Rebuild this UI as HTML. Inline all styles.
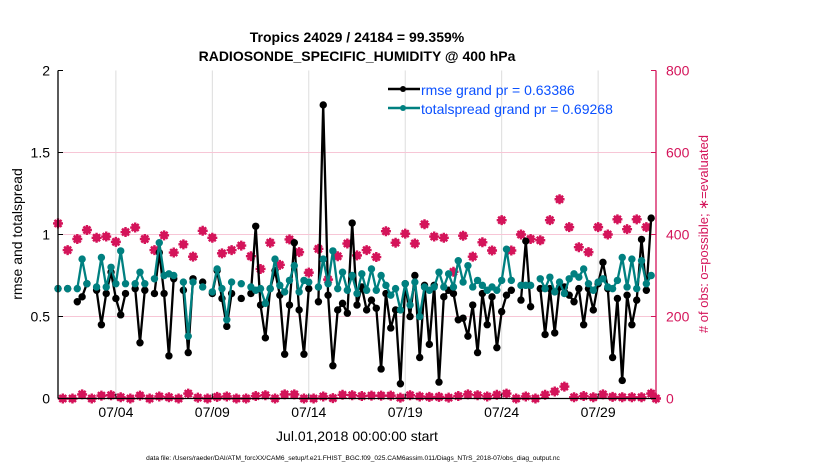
<!DOCTYPE html>
<html><head><meta charset="utf-8"><style>
html,body{margin:0;padding:0;background:#fff;width:830px;height:470px;overflow:hidden}
svg{font-family:"Liberation Sans",Arial,sans-serif}
</style></head><body>
<svg id="chart" width="830" height="470" viewBox="0 0 830 470">
<text x="357" y="42" text-anchor="middle" font-size="14" font-weight="bold">Tropics 24029 / 24184 = 99.359%</text>
<text x="357" y="61" text-anchor="middle" font-size="14" font-weight="bold">RADIOSONDE_SPECIFIC_HUMIDITY @ 400 hPa</text>
<g id="grid"></g>
<g id="marks"></g>
<g id="axes"></g>
<text transform="translate(22,234) rotate(-90)" text-anchor="middle" font-size="14">rmse and totalspread</text>
<text transform="translate(708,234) rotate(-90)" text-anchor="middle" font-size="13" fill="#d4145a"># of obs: o=possible; ∗=evaluated</text>
<text x="357" y="441" text-anchor="middle" font-size="14">Jul.01,2018 00:00:00 start</text>
<text x="353" y="460" text-anchor="middle" font-size="6.6">data file: /Users/raeder/DAI/ATM_forcXX/CAM6_setup/f.e21.FHIST_BGC.f09_025.CAM6assim.011/Diags_NTrS_2018-07/obs_diag_output.nc</text>
<g>
<line x1="388" y1="89" x2="420" y2="89" stroke="#000" stroke-width="2.5"/>
<circle cx="403" cy="89" r="3" fill="#000"/>
<text x="421" y="95" font-size="14" fill="#0a50ff">rmse grand pr = 0.63386</text>
<line x1="388" y1="108" x2="420" y2="108" stroke="#008080" stroke-width="2.5"/>
<circle cx="403" cy="108" r="3" fill="#008080"/>
<text x="421" y="114" font-size="14" fill="#0a50ff">totalspread grand pr = 0.69268</text>
</g>
</svg>
<script>
const rmse=[.67,null,.67,null,.59,.62,.70,null,.66,.45,.64,.77,.61,.51,.64,null,.67,.34,.66,null,.64,.89,.64,.26,.73,null,.66,.28,.73,null,.71,null,.64,.78,.61,.44,.64,null,.61,null,
.64,1.05,.57,.37,.67,.78,.63,.27,.57,.95,.54,.27,.67,null,.59,1.79,.63,.20,.54,.58,.52,1.07,.57,.68,.54,.60,.55,.18,.64,.43,.54,.09,.70,.50,.75,.25,.69,.33,.69,.10,
.62,.66,.64,.48,.49,.38,.57,.28,.64,.45,.62,.31,.53,.63,.66,null,.60,.96,.56,null,.67,.39,.67,.40,.68,.68,.63,.59,.67,.45,.67,.54,.70,.83,.67,.25,.61,.11,.63,.45,.60,.97,.66,1.10,null];
const spread=[.67,null,.67,null,.67,.85,.70,null,.68,.86,.68,.80,.70,.90,.70,null,.70,.77,.70,null,.73,.95,.75,.76,.75,null,.71,.38,.71,null,.68,null,.65,.79,.67,.48,.71,null,.70,null,
.68,.66,.67,.58,.67,.85,.69,.65,.72,.81,.65,.72,.71,null,.68,.85,.70,.90,.67,.77,.66,.75,.64,.76,.66,.79,.66,.75,.69,.63,.67,.54,.70,.57,.71,.50,.68,.66,.68,.77,
.68,.76,.68,.84,.71,.81,.68,.72,.69,.66,.68,.66,.72,.91,.72,null,.69,.69,.69,null,.73,.67,.74,.65,.71,.64,.73,.76,.74,.79,.70,.66,.71,.73,.68,.67,.72,.86,.68,.85,.67,.84,.70,.75,null];
const countsEven=[427,362,389,411,392,395,382,406,417,389,362,398,356,376,346,409,392,354,362,373,347,316,380,326,388,357,307,365,290,347,378,349,362,345,408,380,402,378,425,395,392,309,397,346,381,361,435,361,400,389,386,435,486,418,369,357,418,400,437,413,437,418,0];
const countsOdd=[0,0,10,0,7,8,3,0,7,0,5,3,0,12,2,0,4,5,0,0,6,8,0,10,10,0,0,5,1,9,8,6,7,7,7,2,8,5,4,4,2,6,10,8,5,9,12,0,5,0,9,17,29,3,6,3,10,4,3,3,3,12];
const xTickDays=[3,8,13,18,23,28];
const xTickLabels=["07/04","07/09","07/14","07/19","07/24","07/29"];
const yTicks=[0,0.5,1,1.5,2];
const yTickLabels=["0","0.5","1","1.5","2"];
const y2Ticks=[0,200,400,600,800];

const NS="http://www.w3.org/2000/svg";
const X0=58,X1=656,YB=398.5,YT=70.5,DAYS=31;
const xs=d=>X0+d/DAYS*(X1-X0);
const xi=i=>xs(i*0.25);
const y=v=>YB-v/2*(YB-YT);
const y2=v=>YB-v/800*(YB-YT);
const RED="#d4145a";
function mk(tag,attrs,parent){const e=document.createElementNS(NS,tag);for(const k in attrs)e.setAttribute(k,attrs[k]);parent.appendChild(e);return e;}
const grid=document.getElementById('grid'),marks=document.getElementById('marks'),axes=document.getElementById('axes');

xTickDays.forEach((d,k)=>{
  const l=mk('line',{x1:xs(d),x2:xs(d),y1:YT,y2:YB,stroke:'#dcdcdc','stroke-width':1},grid);
  
  
  const t=mk('line',{x1:xs(d),x2:xs(d),y1:YB,y2:YB-5,stroke:'#000'},axes);
  
  
  const tx=mk('text',{x:xs(d),y:417,'text-anchor':'middle','font-size':14},axes);
  tx.textContent=xTickLabels[k];
  
  
});
yTicks.forEach((v,k)=>{
  if(v>0&&v<2){const g=mk('line',{x1:X0,x2:X1,y1:y(v),y2:y(v),stroke:'#f7c6d6','stroke-width':1},grid);
  
  }
  const t=mk('line',{x1:X0,x2:X0+5,y1:y(v),y2:y(v),stroke:'#000'},axes);
  
  
  const tx=mk('text',{x:X0-8,y:y(v)+5,'text-anchor':'end','font-size':14},axes);
  tx.textContent=yTickLabels[k];
  
  
});
y2Ticks.forEach(v=>{
  const t=mk('line',{x1:X1-5,x2:X1,y1:y2(v),y2:y2(v),stroke:RED},axes);
  
  
  const tx=mk('text',{x:X1+10,y:y2(v)+5,'font-size':14,fill:RED},axes);
  tx.textContent=String(v);
  
  
});
const la=mk('line',{x1:X0,x2:X0,y1:YT,y2:YB,stroke:'#000','stroke-width':1.3},axes);


const ra=mk('line',{x1:X1,x2:X1,y1:YT,y2:YB,stroke:RED,'stroke-width':1.3},axes);


const ba=mk('line',{x1:X0,x2:X1,y1:YB,y2:YB,stroke:'#000','stroke-width':1.3},axes);



function star(cx,cy,name){
  const g=mk('g',{},marks);
  
  
  mk('circle',{cx:cx,cy:cy,r:3.2,fill:'none',stroke:RED,'stroke-width':1.3},g);
  mk('path',{d:`M${cx-5},${cy}L${cx+5},${cy}M${cx},${cy-5}L${cx},${cy+5}M${cx-3.5},${cy-3.5}L${cx+3.5},${cy+3.5}M${cx-3.5},${cy+3.5}L${cx+3.5},${cy-3.5}`,stroke:RED,'stroke-width':2.4},g);
  mk('circle',{cx:cx,cy:cy,r:3,fill:RED},g);
}
countsEven.forEach((c,k)=>star(xi(2*k),y2(c),'count-point'));
countsOdd.forEach((c,k)=>star(xi(2*k+1),y2(c),'count-point'));

function series(arr,color,name){
  let d='';let pen=false;
  arr.forEach((v,i)=>{if(v==null){pen=false;return;}d+=(pen?'L':'M')+xi(i).toFixed(1)+','+y(v).toFixed(1);pen=true;});
  const p=mk('path',{d:d,fill:'none',stroke:color,'stroke-width':2.3,'stroke-linejoin':'round'},marks);
  
  
  arr.forEach((v,i)=>{if(v==null)return;
    const c=mk('circle',{cx:xi(i),cy:y(v),r:3.7,fill:color},marks);
    
    
  });
}
series(rmse,'#000','rmse');
series(spread,'#008080','totalspread');
</script>
</body></html>
